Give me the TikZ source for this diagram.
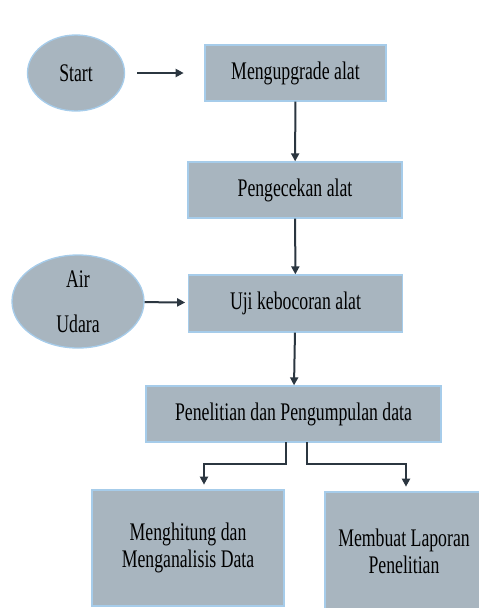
\documentclass[tikz,border=0pt]{standalone}
\usepackage{fontspec}
\setmainfont{Liberation Serif}[FakeStretch=0.7]
\usetikzlibrary{shapes.geometric,arrows.meta}
\definecolor{boxfill}{HTML}{A8B5BF}
\definecolor{boxedge}{HTML}{A6CCEA}
\definecolor{arrowcol}{HTML}{2B3640}
\tikzset{
  procbox/.style={rectangle, fill=boxfill, draw=boxedge, line width=1pt, align=center, font=\fontsize{19}{20}\selectfont, inner sep=0pt},
  termshape/.style={ellipse, fill=boxfill, draw=boxedge, line width=1pt, align=center, font=\fontsize{19}{20}\selectfont, inner sep=0pt},
  flow/.style={draw=arrowcol, line width=1.5pt, -{Triangle[length=6pt,width=6pt]}}
}
\begin{document}
\begin{tikzpicture}[x=0.75pt,y=-0.75pt]
\useasboundingbox (0,0) rectangle (479,608);
\node[termshape, minimum width=97*0.75pt, minimum height=76*0.75pt] (start) at (76,73) {Start};
\node[procbox, minimum width=181*0.75pt, minimum height=56*0.75pt] (upg) at (295.5,73) {Mengupgrade alat};
\node[procbox, minimum width=214*0.75pt, minimum height=56*0.75pt] (cek) at (295,190) {Pengecekan alat};
\node[procbox, minimum width=214*0.75pt, minimum height=57*0.75pt] (uji) at (295.5,303.5) {Uji kebocoran alat};
\node[termshape, minimum width=132*0.75pt, minimum height=93*0.75pt] (air) at (78,301.5) {Air\\[14pt]Udara};
\node[procbox, minimum width=295*0.75pt, minimum height=56*0.75pt] (pen) at (293.5,414) {Penelitian dan Pengumpulan data};
\node[procbox, minimum width=192*0.75pt, minimum height=116*0.75pt] (hit) at (188,548) {Menghitung dan\\Menganalisis Data};
\node[procbox, minimum width=158*0.75pt, minimum height=118*0.75pt] (lap) at (404,551) {Membuat Laporan\\Penelitian};
\coordinate (pl) at (286,442);
\coordinate (pr) at (307,442);
\draw[flow, shorten <=9pt, shorten >=15.5pt] (start) -- (upg);
\draw[flow] (upg) -- (cek);
\draw[flow] (cek) -- (uji);
\draw[flow, shorten >=2pt] (air) -- (uji);
\draw[flow] (uji) -- (pen);
\draw[flow, shorten >=4pt] (pl) -- (286,464) -- (204,464) -- (204,490);
\draw[flow, shorten >=4pt] (pr) -- (307,464) -- (406,464) -- (406,492);
\end{tikzpicture}
\end{document}
